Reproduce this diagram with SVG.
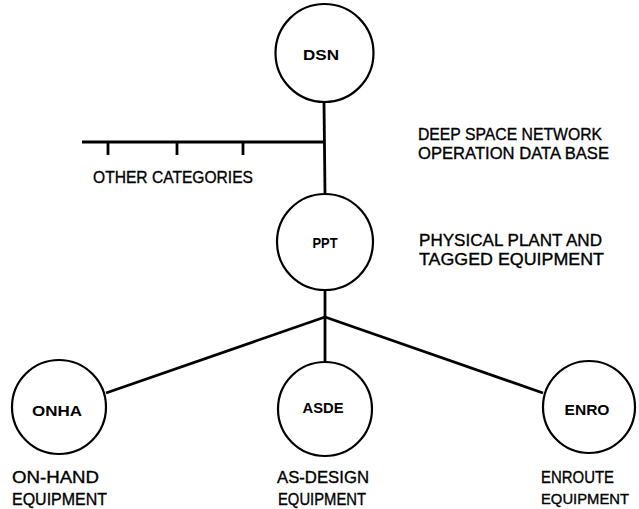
<svg xmlns="http://www.w3.org/2000/svg" width="639" height="509" viewBox="0 0 639 509">
<style>
.node circle{fill:none;stroke:#000;stroke-width:2.2}
.node text{font-family:"Liberation Sans",Arial,sans-serif;font-size:15.5px;fill:#000;text-anchor:middle;font-weight:bold}
.lbl{font-family:"Liberation Sans",Arial,sans-serif;font-size:17px;fill:#000;stroke:#000;stroke-width:0.35}
#connectors line{stroke:#000;stroke-width:2.8;stroke-linecap:butt}
</style>
<rect width="639" height="509" fill="#fff"/>
<g id="connectors">
<line x1="324" y1="102" x2="325" y2="194"/>
<line x1="82" y1="142" x2="324" y2="142"/>
<line x1="108" y1="142" x2="108" y2="155"/>
<line x1="177" y1="142" x2="177" y2="155"/>
<line x1="243" y1="142" x2="243" y2="155"/>
<line x1="325" y1="290" x2="325" y2="317"/>
<line x1="325" y1="317" x2="106" y2="393"/>
<line x1="325" y1="317" x2="325" y2="362"/>
<line x1="325" y1="317" x2="543" y2="393"/>
</g>
<g id="DSN" class="node"><circle cx="324.5" cy="53" r="49"/><text x="321" y="60" textLength="36" lengthAdjust="spacingAndGlyphs">DSN</text></g>
<g id="PPT" class="node"><circle cx="325" cy="242" r="48"/><text x="325" y="248" textLength="25" lengthAdjust="spacingAndGlyphs">PPT</text></g>
<g id="ONHA" class="node"><circle cx="59" cy="407" r="47"/><text x="57" y="416" textLength="50" lengthAdjust="spacingAndGlyphs">ONHA</text></g>
<g id="ASDE" class="node"><circle cx="325" cy="409" r="47"/><text x="323" y="413" textLength="41" lengthAdjust="spacingAndGlyphs">ASDE</text></g>
<g id="ENRO" class="node"><circle cx="589" cy="407" r="46"/><text x="587" y="415" textLength="45" lengthAdjust="spacingAndGlyphs">ENRO</text></g>
<g id="labels">
<text class="lbl" x="93" y="183" textLength="160" lengthAdjust="spacingAndGlyphs">OTHER CATEGORIES</text>
<text class="lbl" x="418" y="140" textLength="184" lengthAdjust="spacingAndGlyphs">DEEP SPACE NETWORK</text>
<text class="lbl" x="418" y="159" textLength="191" lengthAdjust="spacingAndGlyphs">OPERATION DATA BASE</text>
<text class="lbl" x="419" y="246" textLength="183" lengthAdjust="spacingAndGlyphs">PHYSICAL PLANT AND</text>
<text class="lbl" x="419" y="265" textLength="185" lengthAdjust="spacingAndGlyphs">TAGGED EQUIPMENT</text>
<text class="lbl" x="12" y="483" textLength="87" lengthAdjust="spacingAndGlyphs">ON-HAND</text>
<text class="lbl" x="12" y="505" textLength="95" lengthAdjust="spacingAndGlyphs">EQUIPMENT</text>
<text class="lbl" x="277" y="483" textLength="92" lengthAdjust="spacingAndGlyphs">AS-DESIGN</text>
<text class="lbl" x="278" y="505" textLength="88" lengthAdjust="spacingAndGlyphs">EQUIPMENT</text>
<text class="lbl" x="541" y="483" textLength="73" lengthAdjust="spacingAndGlyphs">ENROUTE</text>
<text class="lbl" x="541" y="504" style="font-size:15.5px" textLength="88" lengthAdjust="spacingAndGlyphs">EQUIPMENT</text>
</g>
</svg>
